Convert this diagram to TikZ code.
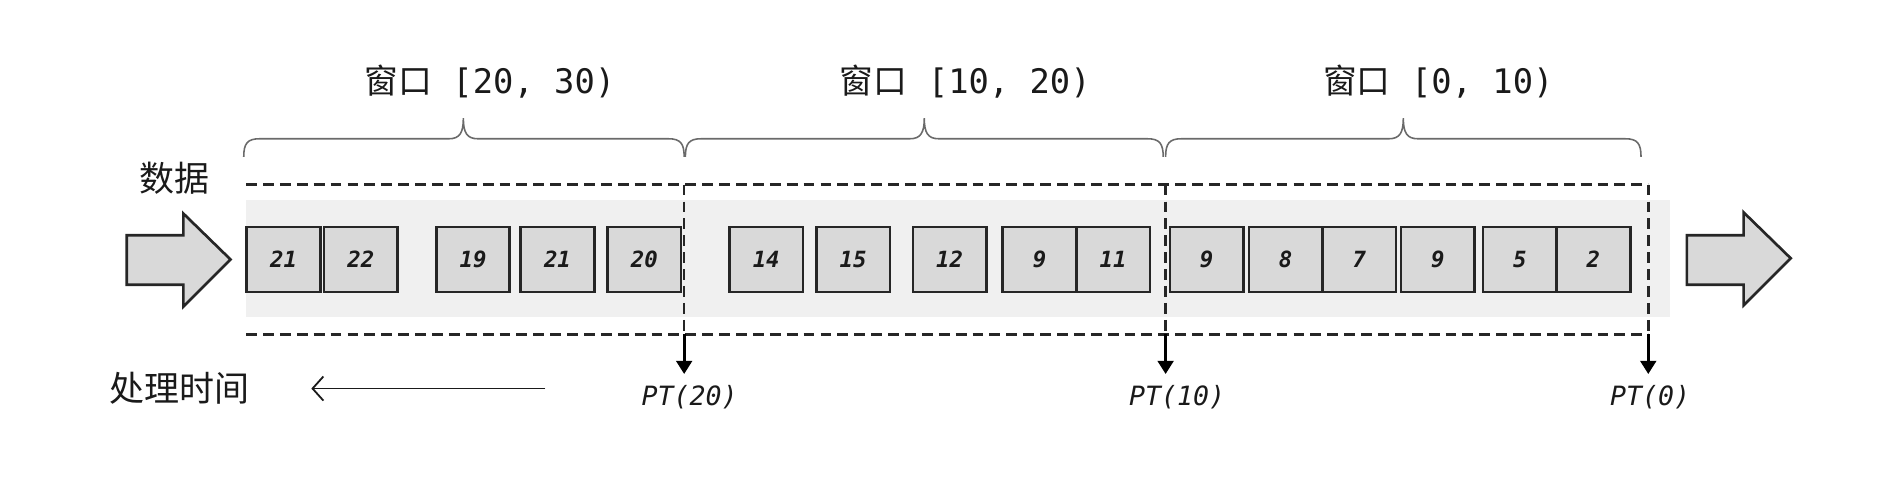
\documentclass[tikz,border=0pt]{standalone}
\usepackage{fontspec}
\setmonofont{DejaVu Sans Mono}
\newfontfamily\cjk{Noto Sans CJK SC}
\usetikzlibrary{arrows.meta}
\definecolor{boxfill}{HTML}{D9D9D9}
\definecolor{boxline}{HTML}{262626}
\definecolor{band}{HTML}{F0F0F0}
\definecolor{ink}{HTML}{1A1A1A}
\definecolor{bracec}{HTML}{6A6A6A}
\begin{document}
\begin{tikzpicture}[x=1pt,y=1pt,
  dbox/.style={draw=boxline, fill=boxfill, line width=2.2pt, minimum width=61pt, minimum height=54pt, inner sep=0pt, text=ink, font=\ttfamily\bfseries\itshape\fontsize{18.5}{18}\selectfont},
  wintitle/.style={text=ink, inner sep=0pt, font=\ttfamily\fontsize{28}{30}\selectfont},
  cjklabel/.style={text=ink, inner sep=0pt, font=\cjk\fontsize{29}{30}\selectfont},
  ptlabel/.style={text=ink, inner sep=0pt, font=\ttfamily\itshape\fontsize{22}{24}\selectfont},
  dline/.style={draw=boxline, line width=2.1pt, dash pattern=on 9pt off 5pt},
  brc/.style={draw=bracec, line width=1.3pt},
  blockarrow/.style={draw=boxline, fill=boxfill, line width=2.2pt, line join=miter},
  downarrow/.style={draw=black, line width=2.6pt, -{Triangle[length=11pt,width=13pt]}},
  timearrow/.style={draw=ink, line width=1.5pt, -{Straight Barb[length=9pt,width=20pt,line width=1.5pt]}}
]
\useasboundingbox (0,0) rectangle (1568,-396);

% gray band
\fill[band] (204,-166) rectangle (1384,-263);

% dashed frame
\coordinate (tl) at (204,-153);
\coordinate (bl) at (204,-277);
\coordinate (t20) at (567,-153);
\coordinate (b20) at (567,-277);
\coordinate (t10) at (966,-153);
\coordinate (b10) at (966,-277);
\coordinate (t0) at (1366,-153);
\coordinate (b0) at (1366,-277);
\draw[dline] (tl) -- (t0);
\draw[dline] (bl) -- (b0);
\draw[dline] (t20) -- (b20);
\draw[dline] (t10) -- (b10);
\draw[dline] (t0) -- (b0);

% block arrows
\draw[blockarrow] (105,-195) -- (152,-195) -- (152,-177) -- (191,-215) -- (152,-254) -- (152,-236) -- (105,-236) -- cycle;
\draw[blockarrow] (1398,-195) -- (1445,-195) -- (1445,-176) -- (1484,-214) -- (1445,-253) -- (1445,-236) -- (1398,-236) -- cycle;

% boxes
\node[dbox] (d1) at (235,-215) {21};
\node[dbox] (d2) at (299,-215) {22};
\node[dbox] (d3) at (392,-215) {19};
\node[dbox] (d4) at (462,-215) {21};
\node[dbox] (d5) at (534,-215) {20};
\node[dbox] (d6) at (635,-215) {14};
\node[dbox] (d7) at (707,-215) {15};
\node[dbox] (d8) at (787,-215) {12};
\node[dbox] (d9) at (861.5,-215) {9};
\node[dbox] (d10) at (922.5,-215) {11};
\node[dbox] (d11) at (1000,-215) {9};
\node[dbox] (d12) at (1065.5,-215) {8};
\node[dbox] (d13) at (1126.5,-215) {7};
\node[dbox] (d14) at (1191.5,-215) {9};
\node[dbox] (d15) at (1259.5,-215) {5};
\node[dbox] (d16) at (1320.5,-215) {2};

% braces
\draw[brc] (202,-130) .. controls (202,-119) and (205,-115) .. (215,-115) -- (372,-115) .. controls (381,-115) and (384,-110) .. (384,-98) .. controls (384,-110) and (387,-115) .. (396,-115) -- (554,-115) .. controls (564,-115) and (567,-119) .. (567,-130);
\draw[brc] (568,-130) .. controls (568,-119) and (571,-115) .. (581,-115) -- (754,-115) .. controls (763,-115) and (766,-110) .. (766,-98) .. controls (766,-110) and (769,-115) .. (778,-115) -- (951,-115) .. controls (961,-115) and (964,-119) .. (964,-130);
\draw[brc] (966,-130) .. controls (966,-119) and (969,-115) .. (979,-115) -- (1151,-115) .. controls (1160,-115) and (1163,-110) .. (1163,-98) .. controls (1163,-110) and (1166,-115) .. (1175,-115) -- (1347,-115) .. controls (1357,-115) and (1360,-119) .. (1360,-130);

% titles
\node[wintitle] (w1) at (406,-68) {{\cjk 窗口} [20, 30)};
\node[wintitle] (w2) at (800,-68) {{\cjk 窗口} [10, 20)};
\node[wintitle] (w3) at (1192,-68) {{\cjk 窗口} [0, 10)};

% labels
\node[cjklabel] (data) at (145,-148) {数据};
\node[cjklabel] (ptime) at (149,-322) {处理时间};

% PT arrows and labels
\coordinate (e20) at (567,-310);
\coordinate (e10) at (966,-310);
\coordinate (e0) at (1366,-310);
\draw[downarrow] (b20) -- (e20);
\draw[downarrow] (b10) -- (e10);
\draw[downarrow] (b0) -- (e0);
\node[ptlabel] (pt20) at (571.5,-329) {PT(20)};
\node[ptlabel] (pt10) at (975.5,-329) {PT(10)};
\node[ptlabel] (pt0) at (1367.5,-329) {PT(0)};

% processing-time arrow
\coordinate (ta) at (452,-322);
\coordinate (tb) at (258,-322);
\draw[timearrow] (ta) -- (tb);
\end{tikzpicture}
\end{document}
